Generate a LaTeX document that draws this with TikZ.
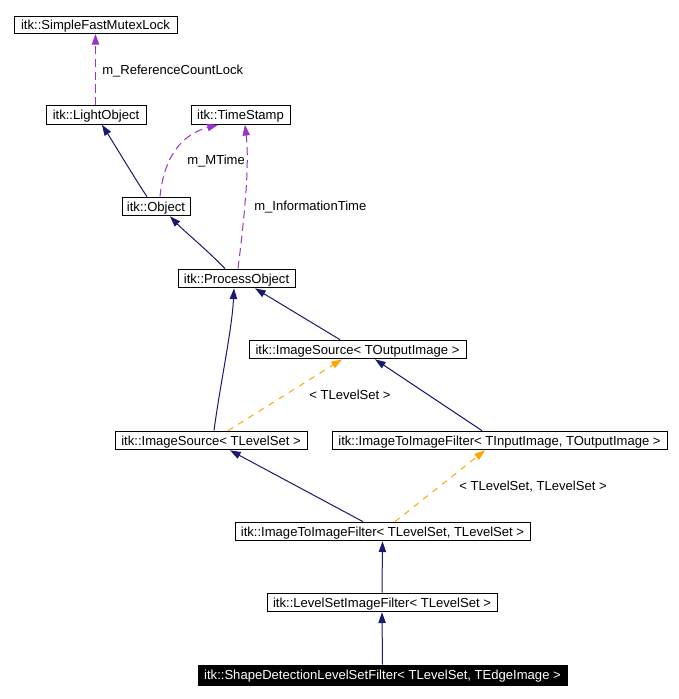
\documentclass[tikz,border=0pt]{standalone}
\usepackage{fontspec}
\setmainfont{Liberation Sans}
\usetikzlibrary{arrows.meta,calc}
\definecolor{navy}{HTML}{191970}
\definecolor{purp}{HTML}{9A32CD}
\definecolor{orng}{HTML}{FFA500}
\begin{document}
\begin{tikzpicture}[x=0.75pt,y=-0.75pt,
  cls/.style={draw=black,line width=0.75pt,inner sep=0pt,minimum height=14pt,text height=7.4pt,text depth=0.2pt,font=\fontsize{9.8}{12}\selectfont},
  lbl/.style={inner sep=0pt,anchor=west,font=\fontsize{9.8}{12}\selectfont},
  inh/.style={draw=navy,line width=0.75pt,-{Triangle[length=8pt,width=5.5pt]}},
  use/.style={draw=purp,line width=0.75pt,dash pattern=on 6pt off 3.5pt,-{Triangle[length=8pt,width=5.5pt]}},
  tmpl/.style={draw=orng,line width=0.75pt,dash pattern=on 4.5pt off 4.5pt,-{Triangle[length=8pt,width=5.5pt]}}]
\useasboundingbox (0,0) rectangle (678,699);
\fill[white] (0,0) rectangle (678,699);
% nodes
\node[cls,minimum width=122.25pt,minimum height=12.75pt] (sfml) at (95.5,25) {itk::SimpleFastMutexLock};
\node[cls,minimum width=75pt] (lo) at (96,115) {itk::LightObject};
\node[cls,minimum width=74.25pt] (ts) at (240.5,115) {itk::TimeStamp};
\node[cls,minimum width=51pt] (obj) at (156,206.5) {itk::Object};
\node[cls,minimum width=87.75pt] (po) at (236.5,278.5) {itk::ProcessObject};
\node[cls,minimum width=162.75pt] (isout) at (357.5,349.5) {itk::ImageSource< TOutputImage >};
\node[cls,minimum width=144pt] (islvl) at (211,440.5) {itk::ImageSource< TLevelSet >};
\node[cls,minimum width=251.25pt] (iiin) at (499.5,440.5) {itk::ImageToImageFilter< TInputImage, TOutputImage >};
\node[cls,minimum width=221.25pt] (iilvl) at (382.5,531.5) {itk::ImageToImageFilter< TLevelSet, TLevelSet >};
\node[cls,minimum width=172.5pt] (lsif) at (382,602.5) {itk::LevelSetImageFilter< TLevelSet >};
\node[cls,minimum width=276.75pt,minimum height=15pt,fill=black,text=white] (shape) at (382.5,675) {itk::ShapeDetectionLevelSetFilter< TLevelSet, TEdgeImage >};
% labels
\node[lbl] (l1) at (102,71) {m\_ReferenceCountLock};
\node[lbl] (l2) at (187,161) {m\_MTime};
\node[lbl] (l3) at (254,207) {m\_InformationTime};
\node[lbl] (l4) at (309,395) {< TLevelSet >};
\node[lbl] (l5) at (459,487) {< TLevelSet, TLevelSet >};
% edges
\draw[use] ($(lo.north)+(-0.5,0)$) -- (sfml.south);
\draw[inh] ($(obj.north)+(-9,0)$) .. controls (137,182) and (113,142) .. ($(lo.south)+(6,0)$);
\draw[use] ($(obj.north)+(4,0)$) .. controls (163,165) and (176,136) .. ($(ts.south)+(-22.5,0)$);
\draw[use] ($(po.north)+(1.5,0)$) .. controls (243,228) and (250,168) .. ($(ts.south)+(4.5,0)$);
\draw[inh] ($(po.north)+(-11.5,0)$) .. controls (205,248) and (185,232) .. ($(obj.south)+(14,0)$);
\draw[inh] ($(isout.north)+(-17.5,0)$) -- ($(po.south)+(18.5,0)$);
\draw[inh] ($(islvl.north)+(3,0)$) .. controls (220,385) and (232,330) .. ($(po.south)+(-2.5,0)$);
\draw[tmpl] ($(islvl.north)+(17,0)$) -- ($(isout.south)+(-15.5,0)$);
\draw[inh] ($(iiin.north)+(-17.5,0)$) -- ($(isout.south)+(17.5,0)$);
\draw[inh] ($(iilvl.north)+(-19.5,0)$) -- ($(islvl.south)+(19,0)$);
\draw[tmpl] ($(iilvl.north)+(12.5,0)$) -- ($(iiin.south)+(-14.5,0)$);
\draw[inh] (lsif.north) -- (iilvl.south);
\draw[inh] (shape.north) -- (lsif.south);
\end{tikzpicture}
\end{document}
